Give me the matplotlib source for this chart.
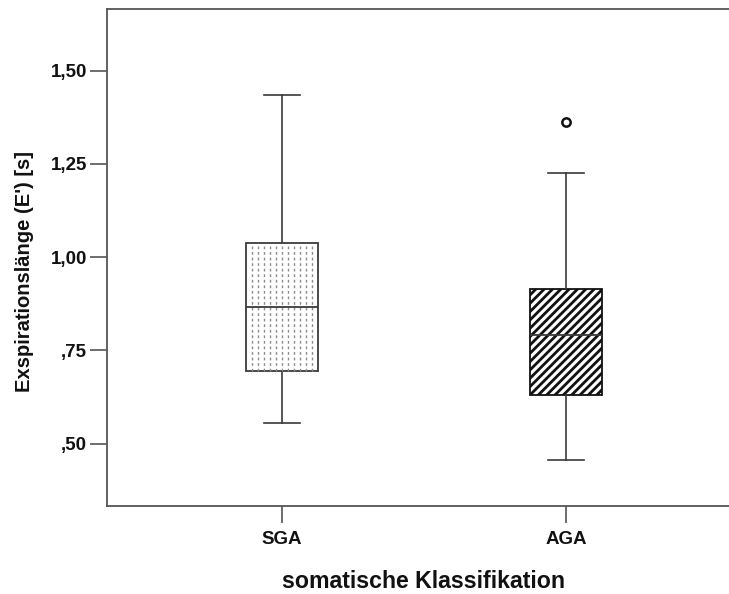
import matplotlib
matplotlib.use('Agg')
import matplotlib.pyplot as plt
import numpy as np

# Kennwerte der Boxplots (Sekunden)
gruppen = ['SGA', 'AGA']
whisker_unten = [0.556, 0.456]
q1 = [0.694, 0.630]
median = [0.867, 0.791]
q3 = [1.039, 0.916]
whisker_oben = [1.435, 1.227]
ausreisser = [[], [1.363]]

plt.rcParams['font.family'] = ['Liberation Sans', 'DejaVu Sans']
plt.rcParams['hatch.linewidth'] = 2.0
plt.rcParams['hatch.color'] = '#111111'

linie = '#3a3a3a'

fig = plt.figure(figsize=(7.29, 5.94), dpi=100)
ax = fig.add_axes([107 / 729, 88.5 / 594, 1 - 107 / 729, 497 / 594])

pos = [1, 2]
breite = 0.2535
stats = []
for i, g in enumerate(gruppen):
    stats.append(dict(label=g, whislo=whisker_unten[i], q1=q1[i], med=median[i],
                      q3=q3[i], whishi=whisker_oben[i], fliers=ausreisser[i]))

bp = ax.bxp(stats, positions=pos, widths=breite, patch_artist=True,
            boxprops=dict(facecolor='white', edgecolor=linie, linewidth=1.3),
            medianprops=dict(color=linie, linewidth=1.3),
            whiskerprops=dict(color=linie, linewidth=1.2),
            capprops=dict(color=linie, linewidth=1.2),
            capwidths=breite / 2,
            flierprops=dict(marker='o', markerfacecolor='white',
                            markeredgecolor='#111111', markersize=6,
                            markeredgewidth=1.8))

# SGA: gestrichelte senkrechte Punktlinien als Füllmuster
x0 = pos[0] - breite / 2
schritt = breite / 12
for x in x0 + schritt * np.arange(1, 12):
    ax.vlines(x, q1[0], q3[0], colors='#8c8c8c', linewidth=1.0,
              linestyles=(0, (2, 2)), zorder=2.5)

# AGA: schraffiert
bp['boxes'][1].set_hatch('////')
bp['boxes'][1].set_edgecolor('#111111')
for b in bp['boxes']:
    b.set_zorder(2)
for m in bp['medians']:
    m.set_zorder(3)

ax.set_xlim(1 - 0.616, 2 + 0.574)
ax.set_ylim(0.334, 1.667)
ax.set_yticks([0.50, 0.75, 1.00, 1.25, 1.50])
ax.set_yticklabels([',50', ',75', '1,00', '1,25', '1,50'])
ax.set_xticks(pos)
ax.set_xticklabels(gruppen)

for s in ['left', 'bottom', 'top']:
    ax.spines[s].set_color('#555555')
    ax.spines[s].set_linewidth(1.3)
ax.spines['right'].set_visible(False)
ax.tick_params(length=12, width=1.2, color='#555555', labelsize=13.5)
ax.tick_params(axis='y', pad=2.5)
ax.tick_params(axis='x', pad=6)
for t in ax.get_xticklabels() + ax.get_yticklabels():
    t.set_fontweight('bold')
    t.set_color('#111111')

fig.text(424 / 729, 1 - 582 / 594, 'somatische Klassifikation', ha='center',
         va='center', fontsize=16.7, fontweight='bold', color='#111111')
fig.text(24 / 729, 1 - 271 / 594, "Exspirationslänge (E') [s]", ha='center',
         va='center', rotation=90, fontsize=14.5, fontweight='bold',
         color='#111111')

fig.savefig('out.png', dpi=100)
